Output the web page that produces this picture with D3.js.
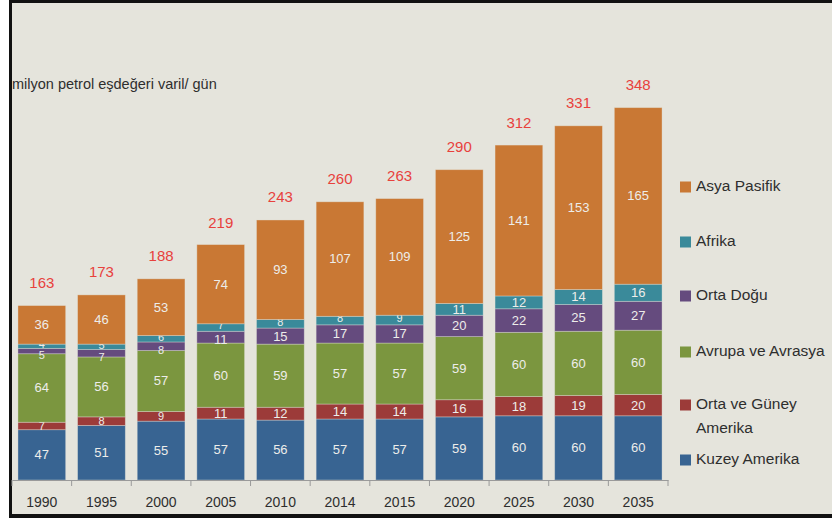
<!DOCTYPE html>
<html>
<head>
<meta charset="utf-8">
<script src="https://cdn.jsdelivr.net/npm/d3@7"></script>
<style>
  html, body { margin: 0; padding: 0; background: #ffffff; }
  svg { display: block; }
  text { font-family: 'Liberation Sans', Arial, sans-serif; }
</style>
</head>
<body>
<svg id="chart"></svg>
<script>
const years = ['1990', '1995', '2000', '2005', '2010', '2014', '2015', '2020', '2025', '2030', '2035']

// bottom to top
const kuzeyAmerika = [47, 51, 55, 57, 56, 57, 57, 59, 60, 60, 60]
const ortaGuney = [7, 8, 9, 11, 12, 14, 14, 16, 18, 19, 20]
const avrupaAvrasya = [64, 56, 57, 60, 59, 57, 57, 59, 60, 60, 60]
const ortaDogu = [5, 7, 8, 11, 15, 17, 17, 20, 22, 25, 27]
const afrika = [4, 5, 6, 7, 8, 8, 9, 11, 12, 14, 16]
const asyaPasifik = [36, 46, 53, 74, 93, 107, 109, 125, 141, 153, 165]
const totals = [163, 173, 188, 219, 243, 260, 263, 290, 312, 331, 348]

const seriesNames = ['Kuzey Amerika', 'Orta ve Güney Amerika', 'Avrupa ve Avrasya', 'Orta Doğu', 'Afrika', 'Asya Pasifik']
const seriesValues = [kuzeyAmerika, ortaGuney, avrupaAvrasya, ortaDogu, afrika, asyaPasifik]
const colors = ['#386492', '#9c3b39', '#7b963f', '#654b7e', '#3a8a9a', '#c97834']

const width = 832
const height = 523

const svg = d3.select('#chart')
  .attr('width', width)
  .attr('height', height)

// background + frame
svg.append('rect').attr('x', 0).attr('y', 0).attr('width', width).attr('height', height).attr('fill', '#ffffff')
svg.append('rect').attr('x', 9).attr('y', 0).attr('width', width - 9).attr('height', 518).attr('fill', '#e5e4dc')
svg.append('rect').attr('x', 9).attr('y', 0).attr('width', width - 9).attr('height', 3).attr('fill', '#111')
svg.append('rect').attr('x', 9).attr('y', 0).attr('width', 3).attr('height', 518).attr('fill', '#111')
svg.append('rect').attr('x', 9).attr('y', 514).attr('width', width - 9).attr('height', 4).attr('fill', '#111')

/// Scales
const xScale = d3.scaleBand()
  .domain(years)
  .range([12, 668])
  .paddingInner(0.2)
  .paddingOuter(0.1)

const yScale = d3.scaleLinear()
  .domain([0, 350])
  .range([480, 105.5])

/// stack data
const rows = years.map((y, i) => {
  const row = { year: y }
  seriesNames.forEach((s, j) => { row[s] = seriesValues[j][i] })
  return row
})
const stacked = d3.stack().keys(seriesNames)(rows)

const layers = svg.append('g')
  .selectAll('g')
  .data(stacked)
  .enter()
  .append('g')
  .attr('fill', (d, i) => colors[i])

layers.selectAll('rect')
  .data(d => d)
  .enter()
  .append('rect')
  .attr('x', d => xScale(d.data.year))
  .attr('y', d => yScale(d[1]))
  .attr('width', xScale.bandwidth())
  .attr('height', d => yScale(d[0]) - yScale(d[1]))
  .attr('stroke', '#e5e4dc')
  .attr('stroke-opacity', 0.45)
  .attr('stroke-width', 0.8)

// segment labels - thin segments get nudged apart like the original
const segH = d => yScale(d[0]) - yScale(d[1])
function labelOffset(d, key) {
  const h = segH(d)
  if (key === 'Afrika' && h < 10) return -1
  if (key === 'Orta Doğu' && h < 10) return 5
  if (key === 'Orta Doğu' && h < 14) return 3
  return 1
}

layers.each(function(layer) {
  d3.select(this).selectAll('text')
    .data(layer)
    .enter()
    .append('text')
    .attr('x', d => xScale(d.data.year) + xScale.bandwidth() / 2)
    .attr('y', d => (yScale(d[0]) + yScale(d[1])) / 2 + labelOffset(d, layer.key))
    .attr('text-anchor', 'middle')
    .attr('dominant-baseline', 'middle')
    .attr('fill', '#ededea')
    .attr('font-size', d => (segH(d) < 10 ? 11 : 13))
    .text(d => d[1] - d[0])
})

// totals
svg.append('g')
  .selectAll('text')
  .data(years)
  .enter()
  .append('text')
  .attr('x', d => xScale(d) + xScale.bandwidth() / 2)
  .attr('y', (d, i) => yScale(totals[i]) - 22)
  .attr('text-anchor', 'middle')
  .attr('dominant-baseline', 'middle')
  .attr('fill', '#e8413c')
  .attr('font-size', 15)
  .text((d, i) => totals[i])

/// x axis
const xAxis = svg.append('g')
  .attr('transform', 'translate(0,480)')
  .call(d3.axisBottom(xScale).tickSize(0).tickPadding(17))
xAxis.select('.domain').attr('stroke', '#9a9a9a')
xAxis.selectAll('.tick text')
  .attr('font-size', 14)
  .attr('fill', '#2e2e2e')
  .attr('font-family', "'Liberation Sans', Arial, sans-serif")
// tick marks between categories
const step = xScale.step()
svg.append('g')
  .selectAll('line')
  .data(d3.range(years.length + 1))
  .enter()
  .append('line')
  .attr('x1', i => 12 + i * step)
  .attr('x2', i => 12 + i * step)
  .attr('y1', 480)
  .attr('y2', 486)
  .attr('stroke', '#9a9a9a')

/// unit label
svg.append('text')
  .attr('x', 12)
  .attr('y', 85)
  .attr('dominant-baseline', 'middle')
  .attr('font-size', 14.5)
  .attr('fill', '#2e2e2e')
  .text('milyon petrol eşdeğeri varil/ gün')

/// legend
const legendItems = [
  { name: 'Asya Pasifik', color: colors[5], y: 187 },
  { name: 'Afrika', color: colors[4], y: 242 },
  { name: 'Orta Doğu', color: colors[3], y: 296 },
  { name: 'Avrupa ve Avrasya', color: colors[2], y: 352 },
  { name: ['Orta ve Güney', 'Amerika'], color: colors[1], y: 405 },
  { name: 'Kuzey Amerika', color: colors[0], y: 460 }
]
const legend = svg.append('g')
  .selectAll('g')
  .data(legendItems)
  .enter()
  .append('g')
  .attr('transform', d => 'translate(680,' + d.y + ')')

legend.append('rect')
  .attr('x', 0)
  .attr('y', -5.5)
  .attr('width', 11)
  .attr('height', 11)
  .attr('fill', d => d.color)

legend.append('text')
  .attr('x', 16)
  .attr('y', 0)
  .attr('dominant-baseline', 'middle')
  .attr('font-size', 15.5)
  .attr('fill', '#2e2e2e')
  .each(function(d) {
    const lines = Array.isArray(d.name) ? d.name : [d.name]
    d3.select(this).selectAll('tspan')
      .data(lines)
      .enter()
      .append('tspan')
      .attr('x', 16)
      .attr('dy', (l, i) => i === 0 ? 0 : 24)
      .text(l => l)
  })
</script>
</body>
</html>
